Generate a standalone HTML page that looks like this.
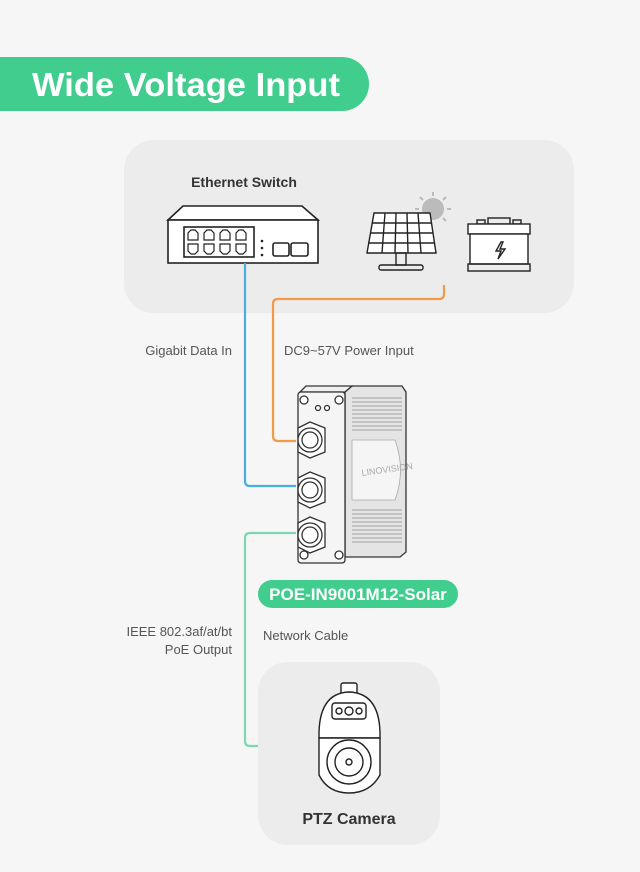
<!DOCTYPE html>
<html><head><meta charset="utf-8"><style>
html,body{margin:0;padding:0;background:#f6f6f6;}
svg{display:block;font-family:"Liberation Sans",sans-serif;}
</style></head><body>
<svg width="640" height="872" viewBox="0 0 640 872" xmlns="http://www.w3.org/2000/svg">
<rect width="640" height="872" fill="#f6f6f6"/>
<!-- banner -->
<path d="M0 57 H342 A27 27 0 0 1 342 111 H0 Z" fill="#41cd8d"/>
<text x="32" y="96" font-size="33" font-weight="bold" fill="#fff" textLength="308" lengthAdjust="spacingAndGlyphs">Wide Voltage Input</text>
<!-- top box -->
<rect x="124" y="140" width="450" height="173" rx="30" fill="#ececec"/>
<text x="244" y="187" font-size="14" font-weight="bold" fill="#333" text-anchor="middle">Ethernet Switch</text>
<g fill="none" stroke="#222" stroke-width="1.6">
<path d="M168 220 L183 206 H302 L318 220 Z" fill="#fff"/>
<rect x="168" y="220" width="150" height="43" fill="#fff"/>
<rect x="184" y="227" width="70" height="30"/>
<g stroke-width="1.2">
<path d="M188 240 v-7 l3-3 h4 l3 3 v7 z M204 240 v-7 l3-3 h4 l3 3 v7 z M220 240 v-7 l3-3 h4 l3 3 v7 z M236 240 v-7 l3-3 h4 l3 3 v7 z"/>
<path d="M188 244 v7 l3 3 h4 l3-3 v-7 z M204 244 v7 l3 3 h4 l3-3 v-7 z M220 244 v7 l3 3 h4 l3-3 v-7 z M236 244 v7 l3 3 h4 l3-3 v-7 z"/>
</g>
<rect x="273" y="243" width="16" height="13" rx="2"/>
<rect x="291" y="243" width="17" height="13" rx="2"/>
</g>
<circle cx="262" cy="241" r="1.3" fill="#222"/><circle cx="262" cy="248" r="1.3" fill="#222"/><circle cx="262" cy="255" r="1.3" fill="#222"/>
<!-- solar -->
<circle cx="433" cy="209" r="11" fill="#bbb"/>
<g stroke="#bbb" stroke-width="2"><path d="M433 192v4M446 197l-3 3M451 209h-4M420 197l3 3M446 221l-3-3M415 209h4"/></g>
<g fill="none" stroke="#222" stroke-width="1.4">
<path d="M374 213 H430 L436 253 H367 Z" fill="#fff"/>
<path d="M372 223 H432 M370 233 H433 M368 243 H435 M385 213 L382 253 M396 213 L395 253 M407 213 L408 253 M418 213 L421 253"/>
<rect x="396" y="253" width="10" height="12"/>
<rect x="379" y="265" width="44" height="5" rx="2"/>
</g>
<!-- battery -->
<g fill="none" stroke="#222" stroke-width="1.4">
<rect x="477" y="220" width="8" height="4"/><rect x="513" y="220" width="8" height="4"/>
<rect x="488" y="218" width="22" height="6"/>
<rect x="468" y="224" width="62" height="10" fill="#fff"/>
<rect x="470" y="234" width="58" height="30" fill="#fff"/>
<rect x="468" y="264" width="62" height="7"/>
<path d="M501 242 l-5 9 h5 l-3 8 l7-10 h-5 l3-7 z"/>
</g>
<!-- lines -->
<g fill="none" stroke-width="2.2" stroke-linejoin="round">
<path d="M245 263 V481 Q245 486 250 486 H296" stroke="#48aee0"/>
<path d="M444 285 V294 Q444 299 439 299 H278 Q273 299 273 304 V436 Q273 441 278 441 H296" stroke="#f39a4a"/>
<path d="M296 533 H250 Q245 533 245 538 V741 Q245 746 250 746 H320" stroke="#7fd7b1"/>
<path d="M296 746 H320" stroke="#48aee0"/>
</g>
<text x="232" y="355" font-size="13" fill="#555" text-anchor="end">Gigabit Data In</text>
<text x="284" y="355" font-size="13" fill="#555">DC9~57V Power Input</text>
<!-- device -->
<g stroke="#333" stroke-width="1.3" fill="#f3f3f3">
<path d="M345 392 L352 386 H402 L406 392 V552 L400 557 H345 Z" fill="#e4e4e4"/>
<path d="M300 392 L306 386 H352 L345 392 Z" fill="#f0f0f0"/>
<rect x="298" y="392" width="47" height="171" rx="3" fill="#f5f5f5"/>
</g>
<g stroke="#888" stroke-width="0.8">
<path d="M352 398H402M352 402H402M352 406H402M352 410H402M352 414H402M352 418H402M352 422H402M352 426H402M352 430H402"/>
<path d="M352 510H402M352 514H402M352 518H402M352 522H402M352 526H402M352 530H402M352 534H402M352 538H402M352 542H402"/>
</g>
<path d="M352 440 H395 Q406 470 395 500 H352 Z" fill="#f5f5f5" stroke="#aaa" stroke-width="0.8"/>
<text x="0" y="0" font-size="9" fill="#aaa" transform="translate(362 476) rotate(-8)">LINOVISION</text>
<g fill="#fff" stroke="#333" stroke-width="1.3">
<circle cx="304" cy="400" r="4"/><circle cx="339" cy="400" r="4"/><circle cx="304" cy="555" r="4"/><circle cx="339" cy="555" r="4"/>
<circle cx="318" cy="408" r="2.5"/><circle cx="327" cy="408" r="2.5"/>
<path d="M298 428 l12-6 l15 6 v24 l-15 6 l-12-6z"/><circle cx="310" cy="440" r="12"/><circle cx="310" cy="440" r="8"/>
<path d="M298 478 l12-6 l15 6 v24 l-15 6 l-12-6z"/><circle cx="310" cy="490" r="12"/><circle cx="310" cy="490" r="8"/>
<path d="M298 523 l12-6 l15 6 v24 l-15 6 l-12-6z"/><circle cx="310" cy="535" r="12"/><circle cx="310" cy="535" r="8"/>
</g>
<!-- pill -->
<rect x="258" y="580" width="200" height="28" rx="14" fill="#41cd8d"/>
<text x="358" y="600" font-size="17" font-weight="bold" fill="#fff" text-anchor="middle">POE-IN9001M12-Solar</text>
<text x="232" y="636" font-size="13" fill="#555" text-anchor="end">IEEE 802.3af/at/bt</text>
<text x="232" y="654" font-size="13" fill="#555" text-anchor="end">PoE Output</text>
<text x="263" y="640" font-size="13" fill="#555">Network Cable</text>
<!-- camera box -->
<rect x="258" y="662" width="182" height="183" rx="30" fill="#ececec"/>
<g fill="#fff" stroke="#222" stroke-width="1.4">
<rect x="341" y="683" width="16" height="12" rx="2"/>
<path d="M319 738 Q318 693 349 692 Q381 693 380 738 Z"/>
<rect x="332" y="703" width="34" height="16" rx="3"/>
<circle cx="339" cy="711" r="3"/><circle cx="349" cy="711" r="4"/><circle cx="359" cy="711" r="3"/>
<path d="M319 738 H380 V775 Q370 793 349 793 Q328 793 319 775 Z"/>
<circle cx="349" cy="762" r="22"/><circle cx="349" cy="762" r="14"/><circle cx="349" cy="762" r="3"/>
</g>
<text x="349" y="824" font-size="16" font-weight="bold" fill="#333" text-anchor="middle">PTZ Camera</text>
</svg>
</body></html>
